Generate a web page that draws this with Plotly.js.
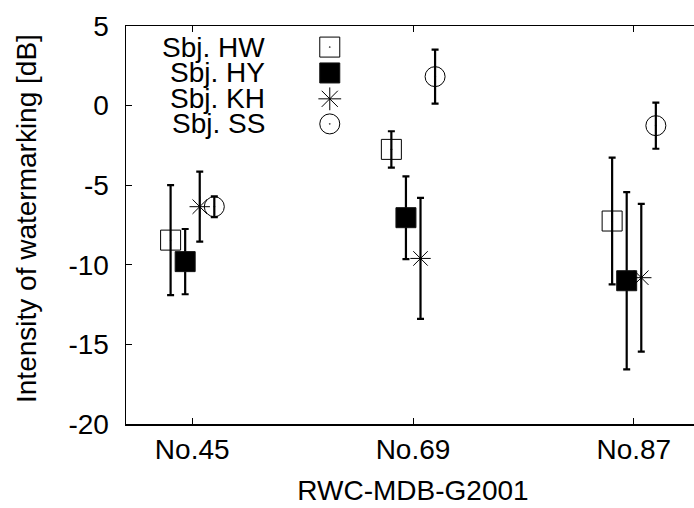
<!DOCTYPE html>
<html>
<head>
<meta charset="utf-8">
<script src="https://cdn.plot.ly/plotly-3.0.1.min.js"></script>
<style>
html,body{margin:0;padding:0;overflow:hidden;background:#fff;}
#chart{width:704px;height:508px;}
</style>
</head>
<body>
<div id="chart"></div>
<script>
// Data
const categories = ["No.45", "No.69", "No.87"];
const subjects = ["Sbj. HW", "Sbj. HY", "Sbj. KH", "Sbj. SS"];
const meanHW = [-8.45, -2.75, -7.25];
const errHW  = [3.45, 1.14, 3.98];
const meanHY = [-9.8, -7.04, -11.0];
const errHY  = [2.05, 2.6, 5.57];
const meanKH = [-6.35, -9.6, -10.81];
const errKH  = [2.2, 3.8, 4.64];
const meanSS = [-6.35, 1.82, -1.26];
const errSS  = [0.65, 1.7, 1.45];
const yTickVals = [-20, -15, -10, -5, 0, 5];
const yTickText = ["-20", "-15", "-10", "-5", "0", "5"];

const means = [meanHW, meanHY, meanKH, meanSS];
const errs = [errHW, errHY, errKH, errSS];
const symbols = ["square-open-dot", "square", "asterisk-open", "circle-open-dot"];
const sizes = [20, 20, 17, 20];
const offsets = [-0.098, -0.032, 0.034, 0.1];

const FONT = "Liberation Sans, Arial, sans-serif";
const traces = [];
subjects.forEach((s, i) => {
  traces.push({
    type: "scatter", mode: "markers", name: s, showlegend: false,
    x: categories.map((c, k) => k + 1 + offsets[i]),
    y: means[i],
    error_y: {type: "data", array: errs[i], visible: true, color: "#000", thickness: 2.2, width: 3.5},
    marker: {symbol: symbols[i], size: sizes[i], color: "#000",
             line: {color: "#111", width: 1}},
    cliponaxis: false
  });
});
// legend keys (overlay axes)
const legY = [0.947, 0.882, 0.817, 0.754];
subjects.forEach((s, i) => {
  traces.push({
    type: "scatter", mode: "markers", showlegend: false, hoverinfo: "skip",
    xaxis: "x2", yaxis: "y2",
    x: [0.355], y: [legY[i]],
    marker: {symbol: symbols[i], size: i === 2 ? 19 : sizes[i], color: "#000", line: {color: "#111", width: 1}},
    cliponaxis: false
  });
});

const annotations = subjects.map((s, i) => ({
  xref: "paper", yref: "paper", x: 0.2456, y: legY[i],
  xanchor: "right", yanchor: "middle", showarrow: false,
  text: s, font: {family: FONT, size: 28, color: "#000"}
}));
annotations.push({
  xref: "paper", yref: "paper", x: -0.1725, y: 0.5176,
  xanchor: "center", yanchor: "middle", showarrow: false, textangle: -90,
  text: "Intensity of watermarking [dB]", font: {family: FONT, size: 28, color: "#000"}
});

const layout = {
  width: 704, height: 508,
  margin: {l: 126, r: 4, t: 26, b: 84},
  paper_bgcolor: "#fff", plot_bgcolor: "#fff",
  showlegend: false,
  font: {family: FONT, size: 28, color: "#000"},
  xaxis: {
    range: [0.7, 3.3], tickvals: [1, 2, 3], ticktext: categories,
    ticks: "inside", ticklen: 6, tickwidth: 1, tickcolor: "#000",
    showline: true, linecolor: "#000", linewidth: 1.5, mirror: "ticks",
    showgrid: false, zeroline: false,
    tickfont: {family: FONT, size: 28, color: "#000"},
    title: {text: "RWC-MDB-G2001", font: {family: FONT, size: 28, color: "#000"}, standoff: 16}
  },
  yaxis: {
    range: [-20, 5], tickvals: yTickVals, ticktext: yTickText,
    ticks: "inside", ticklen: 6, tickwidth: 1, tickcolor: "#000",
    showline: true, linecolor: "#000", linewidth: 1.5, mirror: "ticks",
    showgrid: false, zeroline: false, ticklabelstandoff: 10,
    tickfont: {family: FONT, size: 28, color: "#000"}
  },
  xaxis2: {overlaying: "x", range: [0, 1], visible: false, fixedrange: true},
  yaxis2: {overlaying: "y", range: [0, 1], visible: false, fixedrange: true},
  annotations: annotations
};

Plotly.newPlot("chart", traces, layout, {displayModeBar: false, staticPlot: true});
</script>
</body>
</html>
